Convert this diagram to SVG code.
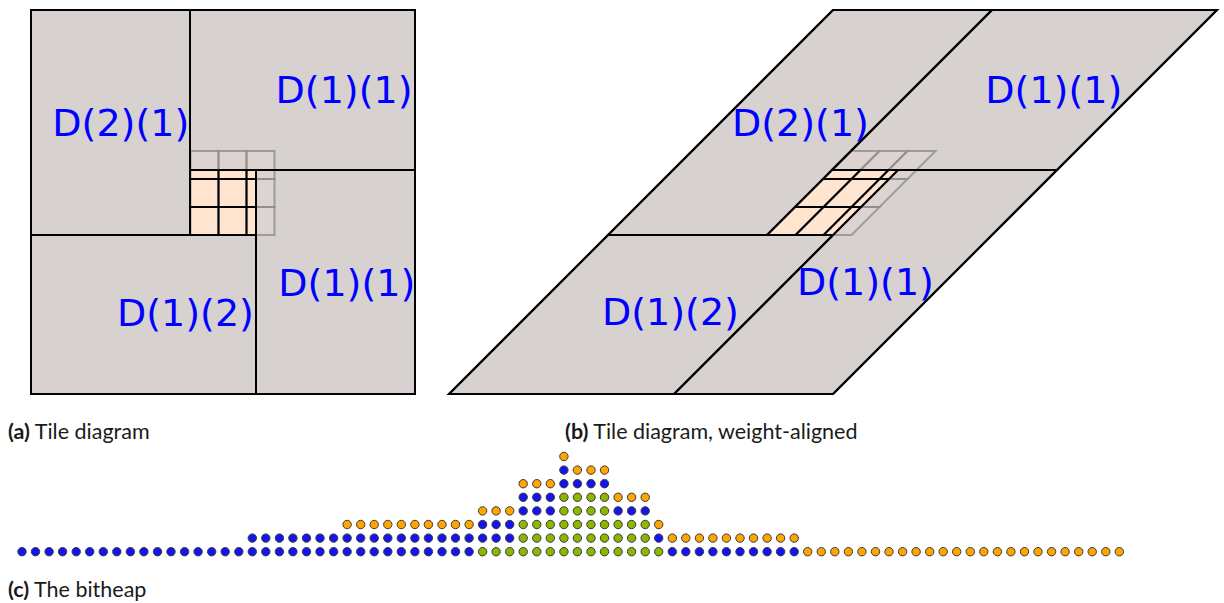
<svg xmlns="http://www.w3.org/2000/svg" width="1224" height="603" viewBox="0 0 1224 603">
<style>
.tile{fill:#d7d1d0;stroke:#000;stroke-width:2}
.hole{fill:#ffe5d0;stroke:none}
.gcell{fill:#ffe5d0;fill-opacity:0.15;stroke:#8a8a8a;stroke-opacity:0.75;stroke-width:2}
.bl{stroke:#000;stroke-width:2;fill:none}
.sk *{vector-effect:non-scaling-stroke}
.lbl{font-family:"DejaVu Sans",sans-serif;font-size:38px;fill:#0000ff}
.cap{font-family:Lato,"Liberation Sans",sans-serif;font-size:21.5px;fill:#1a1a1a}
.cap tspan.bd{font-weight:bold}
circle{stroke:#3a3a3a;stroke-width:1}
circle.b{fill:#1414f0}
circle.o{fill:#ffa500}
circle.g{fill:#8db600}
</style>
<defs>
<g id="tilegeom">
<rect class="tile" x="31" y="10" width="159" height="225"/>
<rect class="tile" x="190" y="10" width="225" height="160"/>
<rect class="tile" x="256" y="170" width="159" height="224"/>
<rect class="tile" x="31" y="235" width="225" height="159"/>
<rect class="hole" x="190" y="170" width="66" height="65"/>
<g>
<rect class="gcell" x="190.5" y="151" width="28" height="28"/>
<rect class="gcell" x="218.5" y="151" width="28" height="28"/>
<rect class="gcell" x="246.5" y="151" width="28" height="28"/>
<rect class="gcell" x="190.5" y="179" width="28" height="28"/>
<rect class="gcell" x="218.5" y="179" width="28" height="28"/>
<rect class="gcell" x="246.5" y="179" width="28" height="28"/>
<rect class="gcell" x="190.5" y="207" width="28" height="28"/>
<rect class="gcell" x="218.5" y="207" width="28" height="28"/>
<rect class="gcell" x="246.5" y="207" width="28" height="28"/>
</g>
<path class="bl" d="M190,170H256M190,179H256M190,207H256M218.5,170V235M246.5,170V235"/>
<path class="bl" d="M190,10V235M31,235H256M256,170V394M256,170H415"/>
<rect x="31" y="10" width="384" height="384" fill="none" stroke="#000" stroke-width="2"/>
</g>
</defs>

<g id="diagram-a">
<use href="#tilegeom"/>
<g id="a-D21"><text class="lbl" x="52.3" y="136">D(2)(1)</text></g>
<g id="a-D11-top"><text class="lbl" x="275.6" y="103">D(1)(1)</text></g>
<g id="a-D11-bottom"><text class="lbl" x="278.3" y="296">D(1)(1)</text></g>
<g id="a-D12"><text class="lbl" x="117" y="326">D(1)(2)</text></g>
</g>

<g id="diagram-b">
<g class="sk" transform="matrix(1,0,-1,1,812,0)">
<rect class="tile" x="31" y="10" width="159" height="225"/>
<rect class="tile" x="190" y="10" width="225" height="160"/>
<rect class="tile" x="256" y="170" width="159" height="224"/>
<rect class="tile" x="31" y="235" width="225" height="159"/>
<rect class="hole" x="190" y="170" width="66" height="65"/>
<rect class="gcell" x="190.5" y="151" width="28" height="28"/>
<rect class="gcell" x="218.5" y="151" width="28" height="28"/>
<rect class="gcell" x="246.5" y="151" width="28" height="28"/>
<rect class="gcell" x="190.5" y="179" width="28" height="28"/>
<rect class="gcell" x="218.5" y="179" width="28" height="28"/>
<rect class="gcell" x="246.5" y="179" width="28" height="28"/>
<rect class="gcell" x="190.5" y="207" width="28" height="28"/>
<rect class="gcell" x="218.5" y="207" width="28" height="28"/>
<rect class="gcell" x="246.5" y="207" width="28" height="28"/>
<path class="bl" d="M190,170H256M190,179H256M190,207H256M218.5,170V235M246.5,170V235"/>
<path class="bl" d="M190,10V235M31,235H256M256,170V394M256,170H415"/>
<rect x="31" y="10" width="384" height="384" fill="none" stroke="#000" stroke-width="2"/>
</g>
<g id="b-D21"><text class="lbl" x="732" y="136">D(2)(1)</text></g>
<g id="b-D11-top"><text class="lbl" x="985.3" y="102.5">D(1)(1)</text></g>
<g id="b-D11-bottom"><text class="lbl" x="797" y="295">D(1)(1)</text></g>
<g id="b-D12"><text class="lbl" x="602" y="325">D(1)(2)</text></g>
</g>

<g id="captions">
<text class="cap" x="8" y="439"><tspan class="bd">(a)</tspan> Tile diagram</text>
<text class="cap" x="565" y="439"><tspan class="bd">(b)</tspan> Tile diagram, weight-aligned</text>
<text class="cap" x="8" y="597"><tspan class="bd">(c)</tspan> The bitheap</text>
</g>

<g id="bitheap">
<g transform="translate(0,551.7)">
<circle class="b" r="4.2" cx="22.0"/><circle class="b" r="4.2" cx="35.5"/><circle class="b" r="4.2" cx="49.1"/><circle class="b" r="4.2" cx="62.6"/><circle class="b" r="4.2" cx="76.2"/><circle class="b" r="4.2" cx="89.7"/><circle class="b" r="4.2" cx="103.3"/><circle class="b" r="4.2" cx="116.8"/><circle class="b" r="4.2" cx="130.4"/><circle class="b" r="4.2" cx="143.9"/><circle class="b" r="4.2" cx="157.5"/><circle class="b" r="4.2" cx="171.0"/><circle class="b" r="4.2" cx="184.6"/><circle class="b" r="4.2" cx="198.1"/><circle class="b" r="4.2" cx="211.7"/><circle class="b" r="4.2" cx="225.2"/><circle class="b" r="4.2" cx="238.8"/><circle class="b" r="4.2" cx="252.3"/><circle class="b" r="4.2" cx="265.8"/><circle class="b" r="4.2" cx="279.4"/><circle class="b" r="4.2" cx="292.9"/><circle class="b" r="4.2" cx="306.5"/><circle class="b" r="4.2" cx="320.0"/><circle class="b" r="4.2" cx="333.6"/><circle class="b" r="4.2" cx="347.1"/><circle class="b" r="4.2" cx="360.7"/><circle class="b" r="4.2" cx="374.2"/><circle class="b" r="4.2" cx="387.8"/><circle class="b" r="4.2" cx="401.3"/><circle class="b" r="4.2" cx="414.9"/><circle class="b" r="4.2" cx="428.4"/><circle class="b" r="4.2" cx="442.0"/><circle class="b" r="4.2" cx="455.5"/><circle class="b" r="4.2" cx="469.1"/>
<circle class="g" r="4.2" cx="482.6"/><circle class="g" r="4.2" cx="496.1"/><circle class="g" r="4.2" cx="509.7"/><circle class="g" r="4.2" cx="523.2"/><circle class="g" r="4.2" cx="536.8"/><circle class="g" r="4.2" cx="550.3"/><circle class="g" r="4.2" cx="563.9"/><circle class="g" r="4.2" cx="577.4"/><circle class="g" r="4.2" cx="591.0"/><circle class="g" r="4.2" cx="604.5"/><circle class="g" r="4.2" cx="618.1"/><circle class="g" r="4.2" cx="631.6"/><circle class="g" r="4.2" cx="645.2"/><circle class="g" r="4.2" cx="658.7"/>
<circle class="b" r="4.2" cx="672.3"/><circle class="b" r="4.2" cx="685.8"/><circle class="b" r="4.2" cx="699.4"/><circle class="b" r="4.2" cx="712.9"/><circle class="b" r="4.2" cx="726.4"/><circle class="b" r="4.2" cx="740.0"/><circle class="b" r="4.2" cx="753.5"/><circle class="b" r="4.2" cx="767.1"/><circle class="b" r="4.2" cx="780.6"/><circle class="b" r="4.2" cx="794.2"/>
<circle class="o" r="4.2" cx="807.7"/><circle class="o" r="4.2" cx="821.3"/><circle class="o" r="4.2" cx="834.8"/><circle class="o" r="4.2" cx="848.4"/><circle class="o" r="4.2" cx="861.9"/><circle class="o" r="4.2" cx="875.5"/><circle class="o" r="4.2" cx="889.0"/><circle class="o" r="4.2" cx="902.6"/><circle class="o" r="4.2" cx="916.1"/><circle class="o" r="4.2" cx="929.7"/><circle class="o" r="4.2" cx="943.2"/><circle class="o" r="4.2" cx="956.7"/><circle class="o" r="4.2" cx="970.3"/><circle class="o" r="4.2" cx="983.8"/><circle class="o" r="4.2" cx="997.4"/><circle class="o" r="4.2" cx="1010.9"/><circle class="o" r="4.2" cx="1024.5"/><circle class="o" r="4.2" cx="1038.0"/><circle class="o" r="4.2" cx="1051.6"/><circle class="o" r="4.2" cx="1065.1"/><circle class="o" r="4.2" cx="1078.7"/><circle class="o" r="4.2" cx="1092.2"/><circle class="o" r="4.2" cx="1105.8"/><circle class="o" r="4.2" cx="1119.3"/>
</g>
<g transform="translate(0,538.1)">
<circle class="b" r="4.2" cx="252.3"/><circle class="b" r="4.2" cx="265.8"/><circle class="b" r="4.2" cx="279.4"/><circle class="b" r="4.2" cx="292.9"/><circle class="b" r="4.2" cx="306.5"/><circle class="b" r="4.2" cx="320.0"/><circle class="b" r="4.2" cx="333.6"/><circle class="b" r="4.2" cx="347.1"/><circle class="b" r="4.2" cx="360.7"/><circle class="b" r="4.2" cx="374.2"/><circle class="b" r="4.2" cx="387.8"/><circle class="b" r="4.2" cx="401.3"/><circle class="b" r="4.2" cx="414.9"/><circle class="b" r="4.2" cx="428.4"/><circle class="b" r="4.2" cx="442.0"/><circle class="b" r="4.2" cx="455.5"/><circle class="b" r="4.2" cx="469.1"/><circle class="b" r="4.2" cx="482.6"/><circle class="b" r="4.2" cx="496.1"/><circle class="b" r="4.2" cx="509.7"/>
<circle class="g" r="4.2" cx="523.2"/><circle class="g" r="4.2" cx="536.8"/><circle class="g" r="4.2" cx="550.3"/><circle class="g" r="4.2" cx="563.9"/><circle class="g" r="4.2" cx="577.4"/><circle class="g" r="4.2" cx="591.0"/><circle class="g" r="4.2" cx="604.5"/><circle class="g" r="4.2" cx="618.1"/><circle class="g" r="4.2" cx="631.6"/><circle class="g" r="4.2" cx="645.2"/>
<circle class="b" r="4.2" cx="658.7"/>
<circle class="o" r="4.2" cx="672.3"/><circle class="o" r="4.2" cx="685.8"/><circle class="o" r="4.2" cx="699.4"/><circle class="o" r="4.2" cx="712.9"/><circle class="o" r="4.2" cx="726.4"/><circle class="o" r="4.2" cx="740.0"/><circle class="o" r="4.2" cx="753.5"/><circle class="o" r="4.2" cx="767.1"/><circle class="o" r="4.2" cx="780.6"/><circle class="o" r="4.2" cx="794.2"/>
</g>
<g transform="translate(0,524.5)">
<circle class="o" r="4.2" cx="347.1"/><circle class="o" r="4.2" cx="360.7"/><circle class="o" r="4.2" cx="374.2"/><circle class="o" r="4.2" cx="387.8"/><circle class="o" r="4.2" cx="401.3"/><circle class="o" r="4.2" cx="414.9"/><circle class="o" r="4.2" cx="428.4"/><circle class="o" r="4.2" cx="442.0"/><circle class="o" r="4.2" cx="455.5"/><circle class="o" r="4.2" cx="469.1"/>
<circle class="b" r="4.2" cx="482.6"/><circle class="b" r="4.2" cx="496.1"/><circle class="b" r="4.2" cx="509.7"/>
<circle class="g" r="4.2" cx="523.2"/><circle class="g" r="4.2" cx="536.8"/><circle class="g" r="4.2" cx="550.3"/><circle class="g" r="4.2" cx="563.9"/><circle class="g" r="4.2" cx="577.4"/><circle class="g" r="4.2" cx="591.0"/><circle class="g" r="4.2" cx="604.5"/><circle class="g" r="4.2" cx="618.1"/><circle class="g" r="4.2" cx="631.6"/><circle class="g" r="4.2" cx="645.2"/>
<circle class="o" r="4.2" cx="658.7"/>
</g>
<g transform="translate(0,510.9)">
<circle class="o" r="4.2" cx="482.6"/><circle class="o" r="4.2" cx="496.1"/><circle class="o" r="4.2" cx="509.7"/>
<circle class="b" r="4.2" cx="523.2"/><circle class="b" r="4.2" cx="536.8"/><circle class="b" r="4.2" cx="550.3"/>
<circle class="g" r="4.2" cx="563.9"/><circle class="g" r="4.2" cx="577.4"/><circle class="g" r="4.2" cx="591.0"/><circle class="g" r="4.2" cx="604.5"/>
<circle class="b" r="4.2" cx="618.1"/><circle class="b" r="4.2" cx="631.6"/><circle class="b" r="4.2" cx="645.2"/>
</g>
<g transform="translate(0,497.3)">
<circle class="b" r="4.2" cx="523.2"/><circle class="b" r="4.2" cx="536.8"/><circle class="b" r="4.2" cx="550.3"/>
<circle class="g" r="4.2" cx="563.9"/><circle class="g" r="4.2" cx="577.4"/><circle class="g" r="4.2" cx="591.0"/><circle class="g" r="4.2" cx="604.5"/>
<circle class="o" r="4.2" cx="618.1"/><circle class="o" r="4.2" cx="631.6"/><circle class="o" r="4.2" cx="645.2"/>
</g>
<g transform="translate(0,483.7)">
<circle class="o" r="4.2" cx="523.2"/><circle class="o" r="4.2" cx="536.8"/><circle class="o" r="4.2" cx="550.3"/>
<circle class="b" r="4.2" cx="563.9"/><circle class="b" r="4.2" cx="577.4"/><circle class="b" r="4.2" cx="591.0"/><circle class="b" r="4.2" cx="604.5"/>
</g>
<g transform="translate(0,470.1)">
<circle class="b" r="4.2" cx="563.9"/>
<circle class="o" r="4.2" cx="577.4"/><circle class="o" r="4.2" cx="591.0"/><circle class="o" r="4.2" cx="604.5"/>
</g>
<g transform="translate(0,456.5)">
<circle class="o" r="4.2" cx="563.9"/>
</g>
</g>
</svg>
